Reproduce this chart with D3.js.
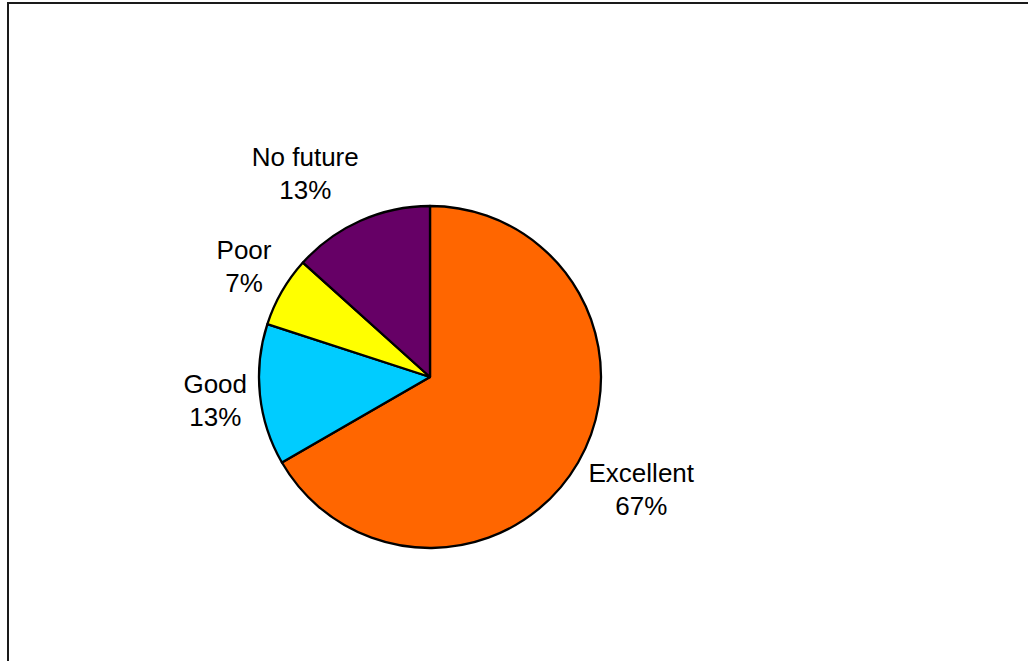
<!DOCTYPE html>
<html>
<head>
<meta charset="utf-8">
<script src="https://cdn.jsdelivr.net/npm/d3@7/dist/d3.min.js"></script>
<style>
  html, body { margin: 0; padding: 0; background: #fff; }
  svg { display: block; }
  text { font-family: "Liberation Sans", Arial, sans-serif; }
</style>
</head>
<body>
<script>
// Survey responses, in drawing order (clockwise from 12 o'clock)
const categories = ["Excellent", "Good", "Poor", "No future"];
const responses = [10, 2, 1, 2];
const sliceColors = ["#FF6600", "#00CCFF", "#FFFF00", "#660066"];

const W = 1028, H = 661;
const cx = 430, cy = 377, radius = 171;
const fontSize = 26, lineGap = 33, labelGap = 19, capHeight = 19;

const svg = d3.select("body").append("svg")
  .attr("width", W).attr("height", H);

// chart area frame
svg.append("rect")
  .attr("x", 8).attr("y", 3)
  .attr("width", W + 50).attr("height", H + 50)
  .attr("fill", "#fff")
  .attr("stroke", "#1a1a1a")
  .attr("stroke-width", 2);

const total = d3.sum(responses);
const data = categories.map((c, i) => ({ name: c, value: responses[i], color: sliceColors[i] }));

const pie = d3.pie().value(d => d.value).sort(null);
const arc = d3.arc().innerRadius(0).outerRadius(radius);
const arcs = pie(data);

const g = svg.append("g").attr("transform", `translate(${cx},${cy})`);

g.selectAll("path.slice")
  .data(arcs)
  .join("path")
  .attr("class", "slice")
  .attr("d", arc)
  .attr("fill", d => d.data.color)
  .attr("stroke", "#000")
  .attr("stroke-width", 2.3)
  .attr("stroke-linejoin", "round");

const pct = d3.format(".0%");

// two-line labels set just outside the rim, pushed away along the slice bisector
arcs.forEach(d => {
  const a = (d.startAngle + d.endAngle) / 2;
  const sx = Math.sin(a), sy = -Math.cos(a);
  const ax = sx * (radius + labelGap);
  const ay = sy * (radius + labelGap);

  const t = g.append("text")
    .attr("text-anchor", "middle")
    .attr("font-size", fontSize)
    .attr("fill", "#000");
  const l1 = t.append("tspan").text(d.data.name);
  const l2 = t.append("tspan").text(pct(d.data.value / total));

  const w = Math.max(l1.node().getComputedTextLength(), l2.node().getComputedTextLength());
  const h = 2 * lineGap;
  const lx = ax + Math.sign(sx) * (w / 2 - 6);
  const midY = ay + sy * h / 2;
  // baseline of the first line, so the block (cap top to last baseline) centres on midY
  const b1 = midY - lineGap / 2 + capHeight / 2;
  l1.attr("x", lx).attr("y", b1);
  l2.attr("x", lx).attr("y", b1 + lineGap);
});
</script>
</body>
</html>
